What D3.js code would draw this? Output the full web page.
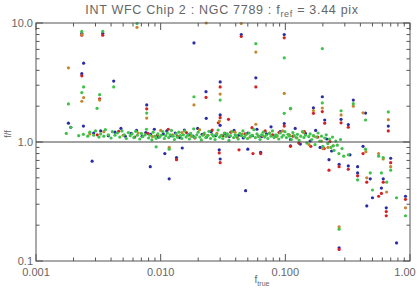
<!DOCTYPE html>
<html>
<head>
<meta charset="utf-8">
<script src="https://cdn.jsdelivr.net/npm/d3@7"></script>
<style>
  html, body { margin: 0; padding: 0; background: #fff; }
  svg { display: block; }
</style>
</head>
<body>
<div id="chart"></div>
<script>
// axis ticks
const xTicks = [0.001, 0.01, 0.1, 1];
const xTickLabels = ['0.001', '0.010', '0.100', '1.00'];
const yTicks = [0.1, 1, 10];
const yTickLabels = ['0.1', '1.0', '10.0'];

// [f_true, ratio] per colour
const blueData = [
  [0.00233, 8.2], [0.00343, 8.2], [0.0185, 6.8], [0.0443, 8.0], [0.098, 8.0],
  [0.00241, 4.6], [0.00233, 3.75], [0.0042, 3.25], [0.058, 3.46], [0.00773, 2.05],
  [0.030, 3.2], [0.0231, 2.65], [0.00182, 1.44], [0.0019, 1.33], [0.030, 1.69],
  [0.0232, 1.58], [0.198, 2.4], [0.351, 2.25], [0.67, 1.36], [0.168, 1.94],
  [0.28, 1.55], [0.44, 1.75], [0.207, 1.53], [0.098, 1.43], [0.32, 1.40],
  [0.00282, 0.69], [0.00825, 0.62], [0.0117, 0.49], [0.0108, 0.80], [0.0134, 0.74],
  [0.0149, 0.89], [0.030, 0.72], [0.0295, 0.86], [0.048, 0.39], [0.0634, 0.82],
  [0.050, 0.87], [0.11, 0.93], [0.224, 0.71], [0.27, 0.65], [0.27, 0.129],
  [0.32, 0.63], [0.38, 0.62], [0.38, 0.55], [0.42, 0.92], [0.48, 0.49],
  [0.45, 0.29], [0.50, 0.34], [0.61, 0.49], [0.59, 0.41], [0.645, 0.28],
  [0.70, 0.73], [0.78, 0.142], [0.92, 0.35], [0.33, 0.78],
  [0.0024, 1.36], [0.0029, 1.19], [0.0033, 1.24], [0.0038, 1.13], [0.0043, 1.21],
  [0.0048, 1.30], [0.0052, 1.12], [0.0058, 1.18], [0.0064, 1.25], [0.0071, 1.12],
  [0.0076, 1.20], [0.0083, 1.16], [0.0089, 1.28], [0.0096, 1.10], [0.0105, 1.17],
  [0.0112, 1.24], [0.0121, 1.13], [0.0131, 1.19], [0.0142, 1.09], [0.0155, 1.26],
  [0.0168, 1.15], [0.0182, 1.12], [0.0198, 1.30], [0.0215, 1.16], [0.0233, 1.10],
  [0.0254, 1.22], [0.0276, 1.13], [0.0300, 1.38], [0.0328, 1.18], [0.0356, 1.11],
  [0.0388, 1.25], [0.0422, 1.14], [0.0460, 1.08], [0.0500, 1.19], [0.0545, 1.13],
  [0.0592, 1.28], [0.0646, 1.11], [0.0705, 1.17], [0.0768, 1.34], [0.0836, 1.12],
  [0.0910, 1.22], [0.110, 1.05], [0.120, 1.30], [0.132, 0.96], [0.145, 1.18],
  [0.158, 1.02], [0.175, 1.25], [0.190, 0.90], [0.215, 1.06], [0.235, 0.84]
];

const redData = [
  [0.00233, 7.9], [0.00343, 7.9], [0.0443, 7.7], [0.098, 7.5], [0.00233, 3.6],
  [0.00324, 2.3], [0.058, 2.9], [0.00773, 1.9], [0.030, 2.9], [0.0231, 2.37],
  [0.198, 1.8], [0.168, 1.74], [0.28, 1.45], [0.67, 1.24], [0.207, 1.44],
  [0.32, 1.33], [0.030, 1.60], [0.035, 1.55],
  [0.030, 0.67], [0.0295, 0.81], [0.0634, 0.80], [0.055, 0.80], [0.0425, 0.86],
  [0.11, 0.92], [0.224, 0.58], [0.27, 0.62], [0.27, 0.125], [0.32, 0.59],
  [0.38, 0.52], [0.42, 0.80], [0.45, 0.46], [0.56, 0.35], [0.61, 0.46],
  [0.59, 0.37], [0.645, 0.26], [0.645, 0.24], [0.70, 0.67], [0.92, 0.33],
  [0.0134, 0.71],
  [0.0031, 1.15], [0.0046, 1.23], [0.0062, 1.10], [0.0079, 1.18], [0.0094, 1.14],
  [0.0115, 1.28], [0.0136, 1.12], [0.0161, 1.20], [0.0188, 1.08], [0.0222, 1.16],
  [0.0259, 1.26], [0.0290, 1.45], [0.0315, 1.13], [0.0365, 1.21], [0.0410, 1.10],
  [0.0475, 1.17], [0.0540, 1.32], [0.0610, 1.12], [0.0690, 1.24], [0.0790, 1.15],
  [0.0890, 1.20], [0.0980, 1.36], [0.115, 1.12], [0.128, 0.98], [0.142, 1.22],
  [0.160, 0.92], [0.182, 1.10], [0.205, 0.88], [0.228, 1.01]
];

const orangeData = [
  [0.00233, 8.0], [0.00646, 9.2], [0.0232, 10.0], [0.0443, 9.9], [0.00182, 4.2],
  [0.00241, 2.36], [0.00233, 2.2], [0.00324, 2.25], [0.00773, 1.59], [0.058, 5.7],
  [0.098, 2.56], [0.0185, 2.05], [0.030, 2.53], [0.198, 1.93], [0.351, 2.0],
  [0.67, 1.54], [0.168, 1.84], [0.28, 1.69], [0.42, 1.76], [0.11, 1.90],
  [0.0117, 0.90], [0.27, 0.194], [0.242, 0.93], [0.443, 0.83], [0.45, 0.50],
  [0.56, 0.80], [0.61, 0.72], [0.65, 0.38], [0.70, 0.62], [0.92, 0.28], [0.20, 0.88],
  [0.0027, 1.17], [0.0035, 1.22], [0.0050, 1.14], [0.0066, 1.19], [0.0086, 1.11],
  [0.0100, 1.25], [0.0124, 1.15], [0.0148, 1.20], [0.0176, 1.12], [0.0205, 1.27],
  [0.0240, 1.14], [0.0282, 1.18], [0.0296, 1.50], [0.0340, 1.12], [0.0395, 1.21],
  [0.0450, 1.16], [0.0520, 1.10], [0.0580, 1.41], [0.0660, 1.13], [0.0750, 1.19],
  [0.0850, 1.11], [0.0950, 1.24], [0.108, 1.15], [0.124, 1.08], [0.140, 1.20],
  [0.155, 0.95], [0.170, 1.12], [0.195, 1.02], [0.220, 0.90]
];

const greenData = [
  [0.00233, 8.5], [0.00343, 8.5], [0.00646, 9.9], [0.00241, 2.9], [0.00233, 2.6],
  [0.00182, 2.09], [0.00324, 2.5], [0.0042, 2.9], [0.00773, 1.75], [0.00309, 1.92],
  [0.0185, 2.4], [0.030, 2.25], [0.058, 6.7], [0.098, 5.1], [0.098, 1.74],
  [0.11, 1.92], [0.198, 6.1], [0.198, 2.13], [0.351, 2.1], [0.67, 1.79],
  [0.28, 1.83], [0.44, 1.53],
  [0.0092, 0.91], [0.0117, 0.87], [0.242, 0.93], [0.27, 0.185], [0.32, 0.78],
  [0.44, 0.87], [0.48, 0.55], [0.50, 0.395], [0.56, 0.76], [0.59, 0.55],
  [0.61, 0.74], [0.65, 0.46], [0.70, 0.58], [0.78, 0.34], [0.92, 0.24], [0.38, 0.48],
  [0.00175, 1.18], [0.0019, 1.33], [0.0022, 1.13], [0.0024, 1.16], [0.0026, 1.12],
  [0.0027, 1.21], [0.0029, 1.14], [0.0030, 1.24], [0.0032, 1.10], [0.0033, 1.17],
  [0.0035, 1.12], [0.0036, 1.27], [0.0038, 1.15], [0.0040, 1.08], [0.0041, 1.22],
  [0.0043, 1.14], [0.0045, 1.19], [0.0047, 1.10], [0.0049, 1.24], [0.0051, 1.15],
  [0.0053, 1.07], [0.0055, 1.20], [0.0057, 1.13], [0.0059, 1.17], [0.0061, 1.09],
  [0.0063, 1.23], [0.0065, 1.14], [0.0068, 1.06], [0.0070, 1.18], [0.0072, 1.11],
  [0.0075, 1.15], [0.0077, 1.28], [0.0080, 1.08], [0.0082, 1.14], [0.0085, 1.04],
  [0.0087, 1.21], [0.0090, 1.12], [0.0092, 1.07], [0.0095, 1.17], [0.0098, 1.10],
  [0.0101, 1.14], [0.0104, 1.22], [0.0107, 1.07], [0.0110, 1.13], [0.0113, 1.19],
  [0.0116, 1.09], [0.0119, 1.15], [0.0122, 1.25], [0.0126, 1.12], [0.0129, 1.05],
  [0.0133, 1.17], [0.0136, 1.10], [0.0140, 1.21], [0.0144, 1.13], [0.0148, 1.07],
  [0.0152, 1.15], [0.0156, 1.24], [0.0160, 1.10], [0.0165, 1.14], [0.0170, 1.06],
  [0.0174, 1.18], [0.0179, 1.12], [0.0184, 1.29], [0.0189, 1.09], [0.0195, 1.15],
  [0.0200, 1.21], [0.0206, 1.10], [0.0212, 1.04], [0.0218, 1.14], [0.0224, 1.19],
  [0.0230, 1.09], [0.0237, 1.13], [0.0244, 1.23], [0.0251, 1.07], [0.0258, 1.16],
  [0.0265, 1.12], [0.0273, 1.05], [0.0281, 1.15], [0.0289, 1.26], [0.0297, 1.10],
  [0.0306, 1.14], [0.0315, 1.07], [0.0324, 1.19], [0.0333, 1.12], [0.0343, 1.17],
  [0.0353, 1.03], [0.0363, 1.13], [0.0374, 1.22], [0.0385, 1.09], [0.0396, 1.15],
  [0.0407, 1.12], [0.0419, 1.06], [0.0431, 1.18], [0.0444, 1.13], [0.0457, 1.24],
  [0.0470, 1.10], [0.0484, 1.15], [0.0498, 1.07], [0.0512, 1.19], [0.0527, 1.12],
  [0.0543, 1.14], [0.0559, 1.27], [0.0575, 1.09], [0.0592, 1.17], [0.0609, 1.12],
  [0.0627, 1.05], [0.0645, 1.15], [0.0664, 1.21], [0.0683, 1.10], [0.0703, 1.14],
  [0.0724, 1.07], [0.0745, 1.18], [0.0767, 1.12], [0.0789, 1.24], [0.0812, 1.09],
  [0.0836, 1.15], [0.0860, 1.13], [0.0885, 1.06], [0.0911, 1.19], [0.0938, 1.10],
  [0.0965, 1.14], [0.0993, 1.22], [0.102, 1.09], [0.105, 1.16], [0.108, 1.12],
  [0.112, 1.05], [0.115, 1.20], [0.118, 1.13], [0.122, 1.09], [0.125, 1.16],
  [0.129, 1.03], [0.133, 1.12], [0.137, 1.22], [0.141, 1.09], [0.145, 1.14],
  [0.149, 0.98], [0.154, 1.11], [0.158, 1.17], [0.163, 1.05], [0.168, 1.13],
  [0.173, 0.95], [0.178, 1.10], [0.183, 1.19], [0.189, 1.02], [0.195, 1.12],
  [0.200, 0.92], [0.207, 1.08], [0.213, 1.15], [0.219, 0.97], [0.226, 1.06],
  [0.232, 0.90], [0.239, 1.10], [0.246, 0.85], [0.254, 1.02], [0.261, 0.94],
  [0.269, 0.80], [0.277, 1.05], [0.285, 0.88], [0.294, 0.76]
];

const series = [
  { data: blueData, color: '#2b2ba6' },
  { data: redData, color: '#d42222' },
  { data: orangeData, color: '#c4862e' },
  { data: greenData, color: '#3ec24a' },
];

const W = 417, H = 291;
const L = 36, R = 410, T = 23, B = 261;
const axisCol = '#555', textCol = '#666';
const font = '"Liberation Sans", Arial, sans-serif';

const svg = d3.select('#chart').append('svg').attr('width', W).attr('height', H);

const x = d3.scaleLog().domain([0.001, 1]).range([L, R]);
const y = d3.scaleLog().domain([0.1, 10]).range([B, T]);

svg.append('defs').append('clipPath').attr('id', 'plotclip')
  .append('rect').attr('x', L).attr('y', T - 2).attr('width', R - L).attr('height', B - T + 2);

// points
const pts = svg.append('g').attr('clip-path', 'url(#plotclip)');
series.forEach(s => {
  pts.append('g').selectAll('circle').data(s.data).enter().append('circle')
    .attr('cx', d => x(d[0])).attr('cy', d => y(d[1]))
    .attr('r', 1.6).attr('fill', s.color);
});

// reference line at 1
svg.append('line')
  .attr('x1', L).attr('x2', R).attr('y1', y(1)).attr('y2', y(1))
  .attr('stroke', '#444').attr('stroke-width', 1);

// axes: IDL style, ticks inward on all four sides
const xMinor = [], yMinor = [];
for (let e = -3; e < 0; e++) for (let m = 2; m <= 9; m++) xMinor.push(m * Math.pow(10, e));
for (let e = -1; e < 1; e++) for (let m = 2; m <= 9; m++) yMinor.push(m * Math.pow(10, e));

const ax = svg.append('g');
ax.append('rect').attr('x', L).attr('y', T).attr('width', R - L).attr('height', B - T)
  .attr('fill', 'none').attr('stroke', axisCol).attr('stroke-width', 1);

const tick = (x1, y1, x2, y2) => ax.append('line')
  .attr('x1', x1).attr('y1', y1).attr('x2', x2).attr('y2', y2)
  .attr('stroke', axisCol).attr('stroke-width', 1);

xTicks.forEach(v => { tick(x(v), B, x(v), B - 7); tick(x(v), T, x(v), T + 7); });
xMinor.forEach(v => { tick(x(v), B, x(v), B - 3.5); tick(x(v), T, x(v), T + 3.5); });
yTicks.forEach(v => { tick(L, y(v), L + 7, y(v)); tick(R, y(v), R - 7, y(v)); });
yMinor.forEach(v => { tick(L, y(v), L + 3.5, y(v)); tick(R, y(v), R - 3.5, y(v)); });

// tick labels (last one kept inside the window)
svg.append('g').selectAll('text').data(xTicks).enter().append('text')
  .attr('x', d => Math.min(x(d), W - 12)).attr('y', B + 15)
  .attr('text-anchor', 'middle').attr('font-family', font).attr('font-size', 11)
  .attr('fill', textCol).text((d, i) => xTickLabels[i]);

svg.append('g').selectAll('text').data(yTicks).enter().append('text')
  .attr('x', L - 3).attr('y', d => y(d) + 4)
  .attr('text-anchor', 'end').attr('font-family', font).attr('font-size', 11)
  .attr('fill', textCol).text((d, i) => yTickLabels[i]);

// title
const title = svg.append('text').attr('x', 222).attr('y', 14)
  .attr('text-anchor', 'middle').attr('font-family', font).attr('font-size', 12.5)
  .attr('fill', textCol).attr('letter-spacing', 0.7);
title.append('tspan').text('INT WFC Chip 2 : NGC 7789 : f');
title.append('tspan').attr('font-size', 9).attr('dy', 3).text('ref');
title.append('tspan').attr('dy', -3).text(' = 3.44 pix');

// x label
const xl = svg.append('text').attr('x', 262).attr('y', 283)
  .attr('text-anchor', 'middle').attr('font-family', font).attr('font-size', 10)
  .attr('fill', textCol);
xl.append('tspan').text('f');
xl.append('tspan').attr('font-size', 7).attr('dy', 3).text('true');

// y label
const yl = svg.append('text').attr('transform', 'translate(11,134) rotate(-90)')
  .attr('text-anchor', 'middle').attr('font-family', font).attr('font-size', 9)
  .attr('fill', textCol);
yl.append('tspan').text('f/f');
</script>
</body>
</html>
